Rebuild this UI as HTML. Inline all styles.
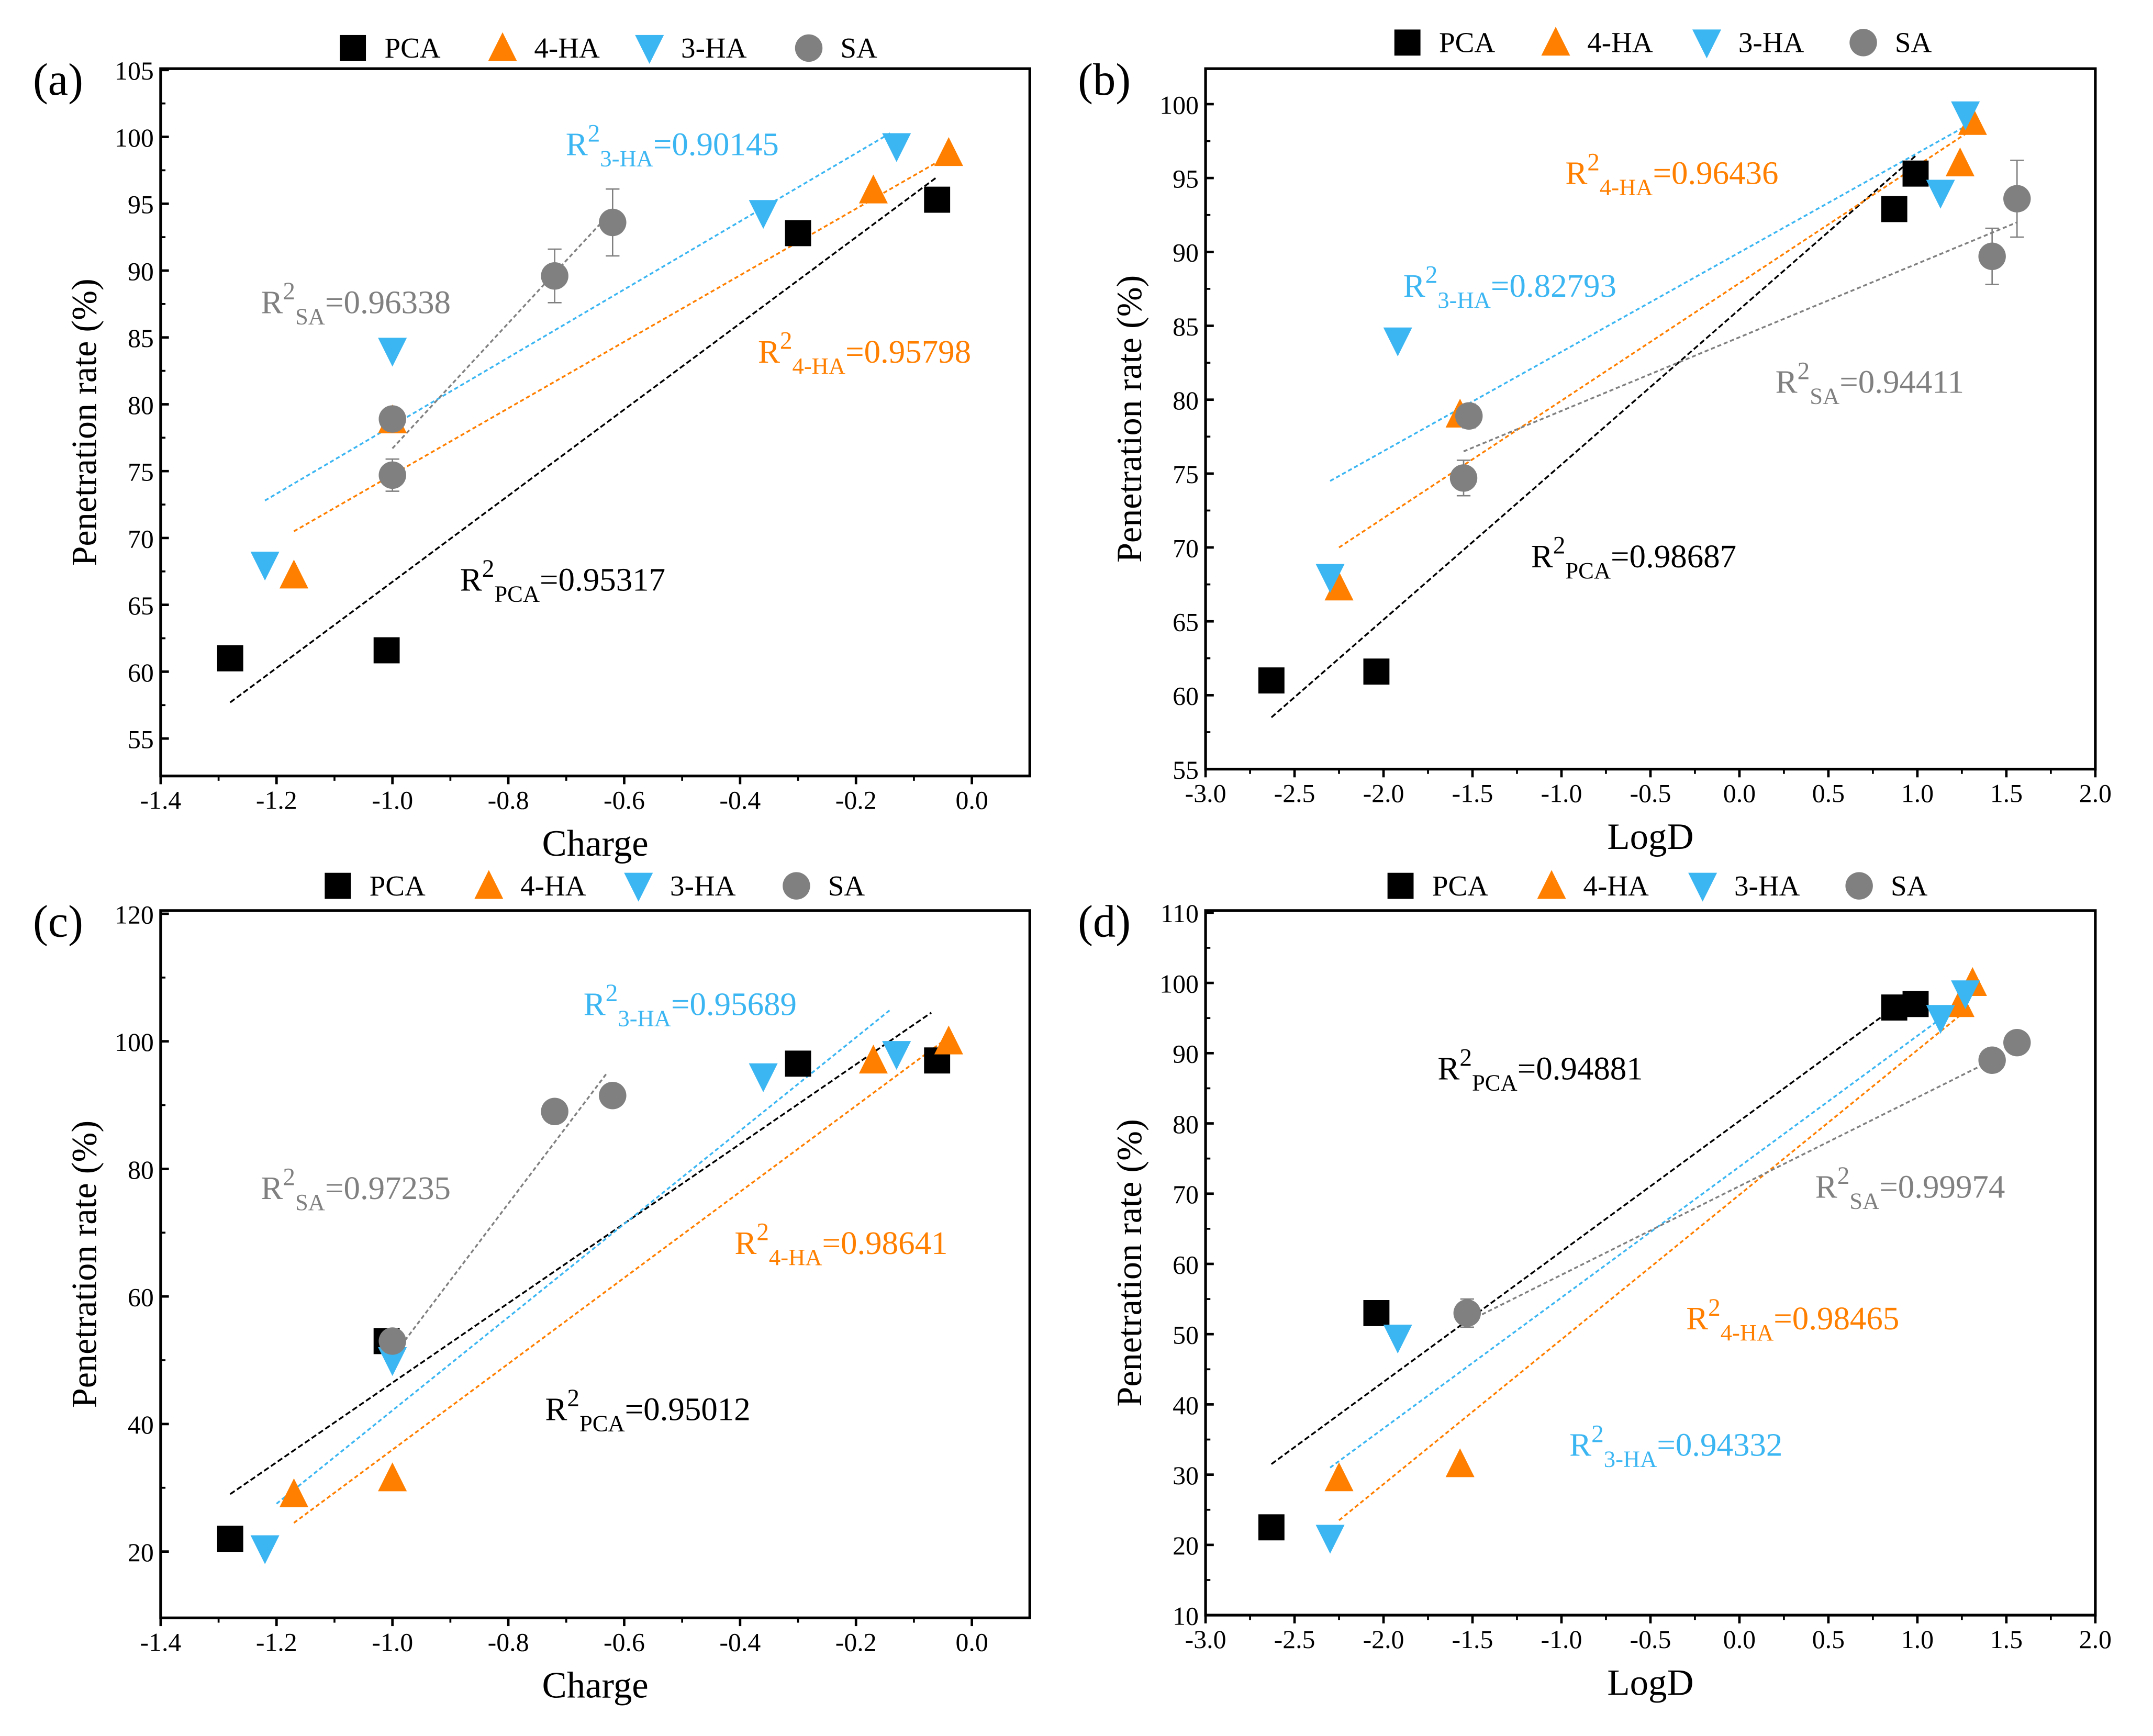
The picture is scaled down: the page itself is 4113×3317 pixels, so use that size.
<!DOCTYPE html>
<html><head><meta charset="utf-8"><style>
html,body{margin:0;padding:0;background:#fff;}
svg{display:block;}
svg text{font-family:"Liberation Serif","Times New Roman","DejaVu Serif",serif;}
</style></head><body>
<svg id="fig" width="4113" height="3317" viewBox="0 0 1568 1264" preserveAspectRatio="none" xmlns="http://www.w3.org/2000/svg">
<rect x="0" y="0" width="1568" height="1264" fill="#fff"/>
</svg>
<script>
// ---- data ----
const seriesNames = ["PCA","4-HA","3-HA","SA"];
const aPCA = [[-1.28,61],[-1.01,61.6],[-0.30,92.8],[-0.06,95.3]];
const a4HA = [[-1.17,67.2],[-1.0,78.8],[-0.17,96],[-0.04,98.8]];
const a3HA = [[-1.22,68],[-1.0,84],[-0.36,94.3],[-0.13,99.3]];
const aSA  = [[-1.0,74.7],[-1.0,78.9],[-0.72,89.6],[-0.62,93.6]];
const aSAerr = [1.2,0.8,2.0,2.5];
const aFitPCA=[[-1.28,57.7],[-0.06,97]];
const aFit4HA=[[-1.17,70.5],[-0.04,98.6]];
const aFit3HA=[[-1.22,72.8],[-0.14,100.3]];
const aFitSA=[[-1.0,76.7],[-0.62,94.5]];

const bPCA = [[-2.63,61],[-2.04,61.6],[0.87,92.9],[0.99,95.3]];
const b4HA = [[-2.25,67.3],[-1.57,79],[1.24,96],[1.31,98.8]];
const b3HA = [[-2.3,68],[-1.92,84],[1.13,94],[1.27,99.3]];
const bSA  = [[-1.55,74.7],[-1.52,78.9],[1.42,89.7],[1.56,93.6]];
const bSAerr = [1.2,0.8,1.9,2.6];
const bFitPCA=[[-2.63,58.5],[0.99,96.5]];
const bFit4HA=[[-2.25,70],[1.31,98.3]];
const bFit3HA=[[-2.3,74.5],[1.27,98.5]];
const bFitSA=[[-1.55,76.5],[1.56,92]];

const cPCA = [[-1.28,22],[-1.01,53],[-0.30,96.5],[-0.06,97]];
const c4HA = [[-1.17,29],[-1.0,31.5],[-0.17,97],[-0.04,100]];
const c3HA = [[-1.22,20.5],[-1.0,50],[-0.36,94.5],[-0.13,98]];
const cSA  = [[-1.0,53],[-0.72,89],[-0.62,91.5]];
const cSAerr = [1,0.5,0.5];
const cFitPCA=[[-1.28,29],[-0.07,104.5]];
const cFit4HA=[[-1.17,24.5],[-0.05,100]];
const cFit3HA=[[-1.2,27.5],[-0.14,105]];
const cFitSA=[[-1.0,50.5],[-0.63,95]];

const dPCA = [[-2.63,22.5],[-2.04,53],[0.87,96.5],[0.99,97]];
const d4HA = [[-2.25,29.5],[-1.57,31.5],[1.24,97],[1.31,100]];
const d3HA = [[-2.3,21],[-1.92,49.5],[1.13,95],[1.27,98.5]];
const dSA  = [[-1.53,53],[1.42,89],[1.56,91.5]];
const dSAerr = [2,0.5,0.5];
const dFitPCA=[[-2.63,31.5],[0.87,96.5]];
const dFit4HA=[[-2.25,23.5],[1.27,96]];
const dFit3HA=[[-2.3,31],[1.27,97.5]];
const dFitSA=[[-1.55,51.5],[1.42,89]];

const chargeTicks=[-1.4,-1.2,-1.0,-0.8,-0.6,-0.4,-0.2,0.0];
const logdTicks=[-3.0,-2.5,-2.0,-1.5,-1.0,-0.5,0.0,0.5,1.0,1.5,2.0];
const aYTicks=[55,60,65,70,75,80,85,90,95,100,105];
const bYTicks=[55,60,65,70,75,80,85,90,95,100];
const cYTicks=[20,40,60,80,100,120];
const dYTicks=[10,20,30,40,50,60,70,80,90,100,110];
const aR2=["0.95317","0.95798","0.90145","0.96338"];
const bR2=["0.98687","0.96436","0.82793","0.94411"];
const cR2=["0.95012","0.98641","0.95689","0.97235"];
const dR2=["0.94881","0.98465","0.94332","0.99974"];

const COL={"PCA":"#000000","4-HA":"#ff7f00","3-HA":"#3bb6f2","SA":"#808080"};
const NS="http://www.w3.org/2000/svg";
const svg=document.getElementById('fig');
function mk(tag,attrs,parent){const e=document.createElementNS(NS,tag);for(const k in attrs)e.setAttribute(k,attrs[k]);(parent||svg).appendChild(e);return e;}

function marker(g,name,x,y){
  const c=COL[name];const s=9.5;let e;
  if(name==="PCA"){e=mk('rect',{x:x-s,y:y-s,width:2*s,height:2*s,fill:c},g);}
  else if(name==="4-HA"){e=mk('polygon',{points:`${x},${y-s-2} ${x-s-1},${y+s} ${x+s+1},${y+s}`,fill:c},g);}
  else if(name==="3-HA"){e=mk('polygon',{points:`${x},${y+s+2} ${x-s-1},${y-s} ${x+s+1},${y-s}`,fill:c},g);}
  else {e=mk('circle',{cx:x,cy:y,r:s+0.5,fill:c},g);}
  return e;
}

function panel(P){
  const g=mk('g',{});
  
  
  const X=v=>P.x0+(v-P.xmin)/(P.xmax-P.xmin)*(P.x1-P.x0);
  const Y=v=>P.y1-(v-P.ymin)/(P.ymax-P.ymin)*(P.y1-P.y0);
  const fr=mk('rect',{x:P.x0,y:P.y0,width:P.x1-P.x0,height:P.y1-P.y0,fill:'none',stroke:'#000','stroke-width':2},g);
  
  P.xt.forEach((t,i)=>{
    const xx=X(t);
    mk('line',{x1:xx,y1:P.y1,x2:xx,y2:P.y1+6,stroke:'#000','stroke-width':1.8},g);
    if(i<P.xt.length-1){const xm=X(t+(P.xt[1]-P.xt[0])/2);mk('line',{x1:xm,y1:P.y1,x2:xm,y2:P.y1+3.5,stroke:'#000','stroke-width':1.4},g);}
    const tx=mk('text',{x:xx,y:P.y1+24,'font-size':19,'text-anchor':'middle',fill:'#000'},g);
    tx.textContent=t.toFixed(1);
    
  });
  P.yt.forEach((t,i)=>{
    const yy=Y(t);
    mk('line',{x1:P.x0,y1:yy,x2:P.x0+6,y2:yy,stroke:'#000','stroke-width':1.8},g);
    if(i<P.yt.length-1){const ym=Y(t+(P.yt[1]-P.yt[0])/2);mk('line',{x1:P.x0,y1:ym,x2:P.x0+3.5,y2:ym,stroke:'#000','stroke-width':1.4},g);}
    const tx=mk('text',{x:P.x0-5,y:yy+7,'font-size':19,'text-anchor':'end',fill:'#000'},g);
    tx.textContent=String(t);
    
  });
  const xt=mk('text',{x:(P.x0+P.x1)/2,y:P.y1+58,'font-size':27,'text-anchor':'middle'},g);
  xt.textContent=P.xlabel;
  const cy=(P.y0+P.y1)/2;
  const yt=mk('text',{x:P.x0-47,y:cy,'font-size':26,'text-anchor':'middle',transform:`rotate(-90 ${P.x0-47} ${cy})`},g);
  yt.textContent="Penetration rate (%)";
  const pl=mk('text',{x:P.x0-93,y:P.y0+19,'font-size':33},g);
  pl.textContent='('+P.id+')';
  const dash={"PCA":"4 2","4-HA":"3 2","3-HA":"3 2","SA":"3 2"};
  seriesNames.forEach((n,i)=>{
    const f=P.fits[i];
    const l=mk('line',{x1:X(f[0][0]),y1:Y(f[0][1]),x2:X(f[1][0]),y2:Y(f[1][1]),stroke:COL[n],'stroke-width':1.3,'stroke-dasharray':dash[n]},g);
    
  });
  P.series[3].forEach((p,j)=>{
    const e=P.err[j],xx=X(p[0]);
    mk('line',{x1:xx,y1:Y(p[1]-e),x2:xx,y2:Y(p[1]+e),stroke:'#808080','stroke-width':1},g);
    mk('line',{x1:xx-5,y1:Y(p[1]-e),x2:xx+5,y2:Y(p[1]-e),stroke:'#808080','stroke-width':1},g);
    mk('line',{x1:xx-5,y1:Y(p[1]+e),x2:xx+5,y2:Y(p[1]+e),stroke:'#808080','stroke-width':1},g);
  });
  seriesNames.forEach((n,i)=>{
    P.series[i].forEach(p=>{
      const m=marker(g,n,X(p[0]),Y(p[1]));
      
      
    });
  });
  seriesNames.forEach((n,i)=>{
    const a=P.ann[i];
    const t=mk('text',{x:a[0],y:a[1],'font-size':24,fill:COL[n]},g);
    
    const s1=mk('tspan',{},t);s1.textContent='R';
    const s2=mk('tspan',{dy:-10,'font-size':18},t);s2.textContent='2';
    const s3=mk('tspan',{dy:18,'font-size':17},t);s3.textContent=n;
    const s4=mk('tspan',{dy:-8},t);s4.textContent='='+P.r2[i];
  });
  const lg=mk('g',{},g);
  
  seriesNames.forEach((n,i)=>{
    const lx=P.legX[i];
    const m=marker(lg,n,lx,P.legY);
    
    const t=mk('text',{x:lx+23,y:P.legY+7,'font-size':21},lg);
    t.textContent=n;
  });
}

panel({id:'a',x0:117,x1:750,y0:50,y1:565,xmin:-1.4,xmax:0.1,ymin:52.2,ymax:105.1,xt:chargeTicks,yt:aYTicks,xlabel:'Charge',
 series:[aPCA,a4HA,a3HA,aSA],err:aSAerr,fits:[aFitPCA,aFit4HA,aFit3HA,aFitSA],r2:aR2,
 ann:[[335,430],[552,264],[412,113],[190,228]],legX:[257,366,473,589],legY:35});
panel({id:'b',x0:878,x1:1526,y0:50,y1:560,xmin:-3.0,xmax:2.0,ymin:55,ymax:102.4,xt:logdTicks,yt:bYTicks,xlabel:'LogD',
 series:[bPCA,b4HA,b3HA,bSA],err:bSAerr,fits:[bFitPCA,bFit4HA,bFit3HA,bFitSA],r2:bR2,
 ann:[[1115,413],[1140,134],[1022,216],[1293,286]],legX:[1025,1133,1243,1357],legY:31});
panel({id:'c',x0:117,x1:750,y0:663,y1:1178,xmin:-1.4,xmax:0.1,ymin:9.6,ymax:120.5,xt:chargeTicks,yt:cYTicks,xlabel:'Charge',
 series:[cPCA,c4HA,c3HA,cSA],err:cSAerr,fits:[cFitPCA,cFit4HA,cFit3HA,cFitSA],r2:cR2,
 ann:[[397,1034],[535,913],[425,739],[190,873]],legX:[246,356,465,580],legY:645});
panel({id:'d',x0:878,x1:1526,y0:663,y1:1176,xmin:-3.0,xmax:2.0,ymin:10,ymax:110.3,xt:logdTicks,yt:dYTicks,xlabel:'LogD',
 series:[dPCA,d4HA,d3HA,dSA],err:dSAerr,fits:[dFitPCA,dFit4HA,dFit3HA,dFitSA],r2:dR2,
 ann:[[1047,786],[1228,968],[1143,1060],[1322,872]],legX:[1020,1130,1240,1354],legY:645});
</script>
</body></html>
